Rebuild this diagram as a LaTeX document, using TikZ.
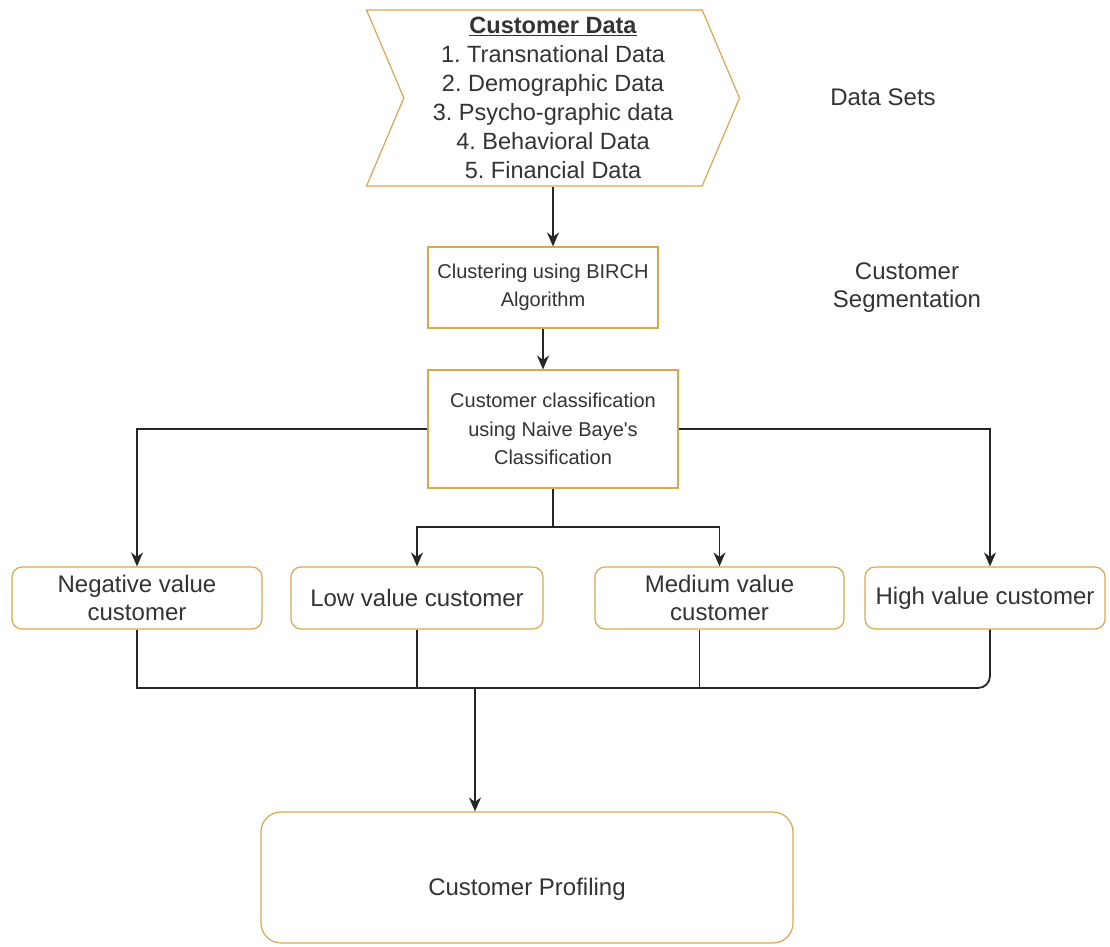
\documentclass[tikz,border=0pt]{standalone}
\usepackage{fontspec}
\setmainfont{Liberation Sans}
\usepackage{xcolor}
\usetikzlibrary{arrows.meta,positioning,shapes.symbols}
\definecolor{boxline}{HTML}{D9A84E}
\definecolor{txt}{HTML}{333333}
\frenchspacing

\begin{document}
\begin{tikzpicture}[x=1pt, y=-1pt, >={Stealth[length=14pt,width=12pt]}]
        \tikzset{proc/.style={rectangle, draw=boxline, fill=white, text=txt, align=center, line width=1.2pt, inner sep=2pt}}
        \tikzset{valbox/.style={proc, rounded corners=10pt, minimum height=62pt, font=\fontsize{24}{28.5}\selectfont}}
        \tikzset{side/.style={text=txt, align=center, font=\fontsize{24}{28}\selectfont}}
        \tikzset{link/.style={draw=black!85, line width=1.8pt}}

        \useasboundingbox (0,0) rectangle (1110,946);

        % data set chevron
        \node [proc, signal, signal from=west, signal to=east, signal pointer angle=134,
               minimum width=373pt, minimum height=176pt, font=\fontsize{23.5}{29}\selectfont] (data) at (553,98)
              {\textbf{\underline{Customer Data}}\\1. Transnational Data\\2. Demographic Data\\3. Psycho-graphic data\\4. Behavioral Data\\5. Financial Data};
        \node [side] (sets) at (883,97) {Data Sets};

        % segmentation and classification
        \node [proc, minimum width=230pt, minimum height=81pt, font=\fontsize{20}{28}\selectfont] (birch) at (543,287.5)
              {Clustering using BIRCH\\Algorithm};
        \node [side] (seg) at (907,288) {Customer\\Segmentation};
        \node [proc, minimum width=250pt, minimum height=118pt, font=\fontsize{20}{28.5}\selectfont] (cls) at (553,429)
              {Customer classification\\using Naive Baye\textquotesingle s\\Classification};

        % value groups
        \node [valbox, minimum width=250pt] (neg) at (137,598) {Negative value\\customer};
        \node [valbox, minimum width=252pt] (low) at (417,598) {Low value customer};
        \node [valbox, minimum width=249pt] (med) at (719.5,598) {Medium value\\customer};
        \node [valbox, minimum width=240pt] (high) at (985,598) {High value customer};

        \node [proc, rounded corners=20pt, minimum width=532pt, minimum height=131pt, text height=40pt, text depth=5pt,
               font=\fontsize{24}{28}\selectfont] (prof) at (527,877.5) {Customer Profiling};

        \coordinate (split) at (553,527);
        \coordinate (join) at (475,688);

        \draw [link, ->] (data.south) -- (data.south |- birch.north);
        \draw [link, ->] (birch.south) -- (birch.south |- cls.north);
        \draw [link, ->] (cls.west) -| (neg.north);
        \draw [link, ->] (cls.east) -| ([xshift=5pt]high.north);
        \draw [link] (cls.south) -- (split);
        \draw [link, ->] (split) -| (low.north);
        \draw [link, ->] (split) -| (med.north);
        \draw [link] (neg.south) |- (join);
        \draw [link] (low.south) |- (join);
        \draw [link] ([xshift=-20pt]med.south) |- (join);
        \draw [link, rounded corners=12pt] ([xshift=5pt]high.south) |- (join);
        \draw [link, ->] (join) -- (join |- prof.north);
    \end{tikzpicture}
\end{document}
